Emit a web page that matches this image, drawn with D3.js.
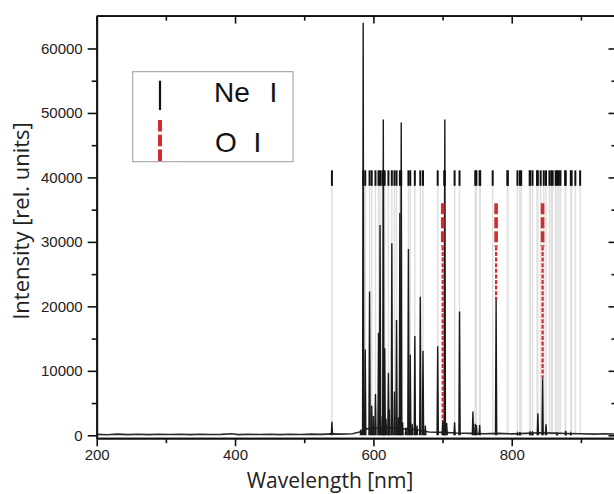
<!DOCTYPE html>
<html>
<head>
<meta charset="utf-8">
<script src="https://cdn.jsdelivr.net/npm/d3@7/dist/d3.min.js"></script>
<style>
  html, body { margin: 0; padding: 0; background: #fff; }
  svg { display: block; }
</style>
</head>
<body>
<svg id="chart" width="614" height="494"></svg>
<script>
// Emission spectrum: peak positions [nm] and heights [rel. units]
const spectrumPeaks = [
  [540.06, 2100], [582.0, 900], [585.25, 64000], [588.19, 13300], [594.48, 22300],
  [597.55, 4600], [600.1, 3000], [603.00, 6400], [607.43, 15900], [609.62, 32600],
  [612.84, 3000], [614.31, 49000], [616.36, 13500], [618.2, 2600], [621.73, 9700],
  [623.0, 4000], [626.65, 29800], [630.48, 6800], [633.44, 17900], [636.0, 2800],
  [638.30, 34500], [640.22, 48500], [642.2, 2000], [647.0, 1200], [650.65, 28900],
  [653.29, 12500], [656.0, 1800], [659.90, 15400], [663.0, 1500], [667.83, 21500],
  [671.70, 13100], [675.0, 1500], [692.95, 13800], [700.2, 2200], [702.41, 2500],
  [703.24, 49000], [705.91, 1900], [717.39, 2000], [724.52, 19200], [743.89, 3700],
  [747.24, 1800], [748.89, 1600], [753.58, 1600], [777.4, 21000], [808.25, 300],
  [811.85, 500], [826.65, 600], [830.03, 600], [837.76, 3400], [844.6, 8800],
  [849.54, 1700], [865.44, 400], [878.06, 700], [885.39, 300]
];

// Continuum / background level between the lines
const baseline = [
  [200, 150], [215, 90], [230, 180], [245, 110], [260, 160], [275, 100], [290, 170],
  [305, 120], [320, 160], [335, 100], [350, 170], [365, 120], [380, 150], [395, 230],
  [405, 110], [420, 160], [435, 120], [450, 170], [465, 110], [480, 160], [495, 130],
  [510, 180], [525, 140], [540, 220], [555, 180], [570, 250], [580, 500], [590, 1000],
  [600, 1100], [620, 1200], [640, 1000], [660, 900], [680, 500], [700, 450], [720, 350],
  [740, 300], [760, 250], [780, 300], [800, 220], [820, 300], [840, 400], [860, 330],
  [880, 280], [900, 230], [920, 180], [935, 240], [950, 200]
];

// Ne I reference line positions [nm]
const neLines = [
  540.06, 585.25, 588.19, 594.48, 597.55, 603.00, 607.43, 609.62, 612.84, 614.31,
  616.36, 621.73, 626.65, 630.48, 633.44, 638.30, 640.22, 650.65, 653.29, 659.90,
  667.83, 671.70, 692.95, 702.41, 703.24, 717.39, 724.52, 747.24, 748.89, 753.58,
  754.40, 772.46, 793.70, 794.32, 808.25, 811.85, 813.64, 825.94, 826.65, 830.03,
  836.57, 837.76, 841.84, 846.34, 849.54, 854.47, 857.14, 859.13, 863.46, 865.44,
  868.19, 870.41, 877.17, 878.06, 885.39, 886.58, 891.95, 898.86
];

// O I reference lines: position [nm] and measured peak height
const oLines = [[700.2, 2200], [777.4, 21000], [844.6, 8800]];

const xTicksMajor = [200, 400, 600, 800];
const xTicksMinor = [300, 500, 700, 900];
const yTicksMajor = [0, 10000, 20000, 30000, 40000, 50000, 60000];
const yTicksMinor = [5000, 15000, 25000, 35000, 45000, 55000];

const legendLabels = ["Ne I", "O I"];

// Marker levels [rel. units]
const neMarkTop = 41100, neMarkBottom = 38700;
const oMarkTop = 36000, oMarkBottom = 29300;

const svg = d3.select("#chart");
const x = d3.scaleLinear().domain([200, 950]).range([96.7, 615.5]);
const y = d3.scaleLinear().domain([-450, 65100]).range([438.2, 15.6]);

const RED = "#d22b2e";
const tickFont = "'Liberation Sans', Arial, sans-serif";

// Grey guide lines from each Ne I marker down to the baseline
svg.append("g").selectAll("line").data(neLines).join("line")
  .attr("x1", d => x(d)).attr("x2", d => x(d))
  .attr("y1", y(neMarkBottom)).attr("y2", y(0))
  .attr("stroke", "#e0e0e0").attr("stroke-width", 1.5);

// Background
const line = d3.line().x(d => x(d[0])).y(d => y(d[1]));
svg.append("path").datum(baseline)
  .attr("d", line).attr("fill", "none")
  .attr("stroke", "#2a2a2a").attr("stroke-width", 1.6);

// Emission peaks
const halfWidth = 0.9;
svg.append("g").selectAll("path").data(spectrumPeaks).join("path")
  .attr("d", d => line([[d[0] - halfWidth, 0], [d[0], d[1]], [d[0] + halfWidth, 0]]))
  .attr("fill", "none").attr("stroke", "#1a1a1a").attr("stroke-width", 1.4)
  .attr("stroke-linejoin", "miter");

// Ne I markers
svg.append("g").selectAll("line").data(neLines).join("line")
  .attr("x1", d => x(d)).attr("x2", d => x(d))
  .attr("y1", y(neMarkTop)).attr("y2", y(neMarkBottom))
  .attr("stroke", "#111").attr("stroke-width", 2);

// O I markers: bold dashed tag, then a fine dashed drop to the peak
const oG = svg.append("g");
oG.selectAll("line.thin").data(oLines).join("line").attr("class", "thin")
  .attr("x1", d => x(d[0])).attr("x2", d => x(d[0]))
  .attr("y1", y(oMarkBottom)).attr("y2", d => y(d[1]))
  .attr("stroke", RED).attr("stroke-width", 2.2).attr("stroke-dasharray", "4,1.6");
oG.selectAll("line.bold").data(oLines).join("line").attr("class", "bold")
  .attr("x1", d => x(d[0])).attr("x2", d => x(d[0]))
  .attr("y1", y(oMarkTop)).attr("y2", y(oMarkBottom))
  .attr("stroke", RED).attr("stroke-width", 3.6).attr("stroke-dasharray", "11,3");

// Axes
function styleAxis(g, showText) {
  g.select(".domain").attr("stroke", "#111").attr("stroke-width", 1.8);
  g.selectAll(".tick line").attr("stroke", "#111").attr("stroke-width", 1.6);
  g.selectAll(".tick text").attr("font-family", tickFont).attr("font-size", 15)
    .attr("fill", "#222");
  if (!showText) g.selectAll(".tick text").remove();
}
const noLabel = () => "";

svg.append("g").attr("transform", `translate(${x(200)},0)`)
  .call(d3.axisLeft(y).tickValues(yTicksMinor).tickSize(5).tickSizeOuter(0).tickFormat(noLabel))
  .call(g => styleAxis(g, false));
svg.append("g").attr("transform", `translate(${x(200)},0)`)
  .call(d3.axisLeft(y).tickValues(yTicksMajor).tickSize(9).tickSizeOuter(0).tickPadding(5).tickFormat(d3.format("d")))
  .call(g => styleAxis(g, true));

svg.append("g").attr("transform", `translate(${x(950)},0)`)
  .call(d3.axisRight(y).tickValues(yTicksMinor).tickSize(-4).tickSizeOuter(0).tickFormat(noLabel))
  .call(g => styleAxis(g, false));
svg.append("g").attr("transform", `translate(${x(950)},0)`)
  .call(d3.axisRight(y).tickValues(yTicksMajor).tickSize(-7).tickSizeOuter(0).tickFormat(noLabel))
  .call(g => styleAxis(g, false));

svg.append("g").attr("transform", `translate(0,${y(-450)})`)
  .call(d3.axisBottom(x).tickValues(xTicksMinor).tickSize(5).tickSizeOuter(0).tickFormat(noLabel))
  .call(g => styleAxis(g, false));
svg.append("g").attr("transform", `translate(0,${y(-450)})`)
  .call(d3.axisBottom(x).tickValues(xTicksMajor).tickSize(8).tickSizeOuter(0).tickPadding(3).tickFormat(d3.format("d")))
  .call(g => styleAxis(g, true));

svg.append("g").attr("transform", `translate(0,${y(65100)})`)
  .call(d3.axisTop(x).tickValues(xTicksMinor).tickSize(-5).tickSizeOuter(0).tickFormat(noLabel))
  .call(g => styleAxis(g, false));
svg.append("g").attr("transform", `translate(0,${y(65100)})`)
  .call(d3.axisTop(x).tickValues(xTicksMajor).tickSize(-8).tickSizeOuter(0).tickFormat(noLabel))
  .call(g => styleAxis(g, false));

// Axis titles
const titleFont = "'Open Sans', 'Noto Sans', sans-serif";
svg.append("text")
  .attr("transform", "translate(29,221) rotate(-90)")
  .attr("text-anchor", "middle").attr("font-family", titleFont).attr("font-size", 22)
  .attr("fill", "#222").text("Intensity [rel. units]");
svg.append("text")
  .attr("x", 330).attr("y", 487.5)
  .attr("text-anchor", "middle").attr("font-family", titleFont).attr("font-size", 21)
  .attr("fill", "#222").text("Wavelength [nm]");

// Legend
const lg = svg.append("g");
lg.append("rect").attr("x", 132.7).attr("y", 71.7).attr("width", 160.3).attr("height", 90)
  .attr("fill", "#fff").attr("stroke", "#9a9a9a").attr("stroke-width", 1);
lg.append("line").attr("x1", 160).attr("x2", 160).attr("y1", 80.7).attr("y2", 110)
  .attr("stroke", "#111").attr("stroke-width", 2.2);
lg.append("line").attr("x1", 160).attr("x2", 160).attr("y1", 120).attr("y2", 161.7)
  .attr("stroke", RED).attr("stroke-width", 4).attr("stroke-dasharray", "11.5,3.2");
lg.append("text").attr("x", 214).attr("y", 102)
  .attr("font-family", tickFont).attr("font-size", 28).attr("word-spacing", 12)
  .attr("fill", "#111").text(legendLabels[0]);
lg.append("text").attr("x", 215).attr("y", 151.5)
  .attr("font-family", tickFont).attr("font-size", 28).attr("word-spacing", 9)
  .attr("fill", "#111").text(legendLabels[1]);
</script>
</body>
</html>
